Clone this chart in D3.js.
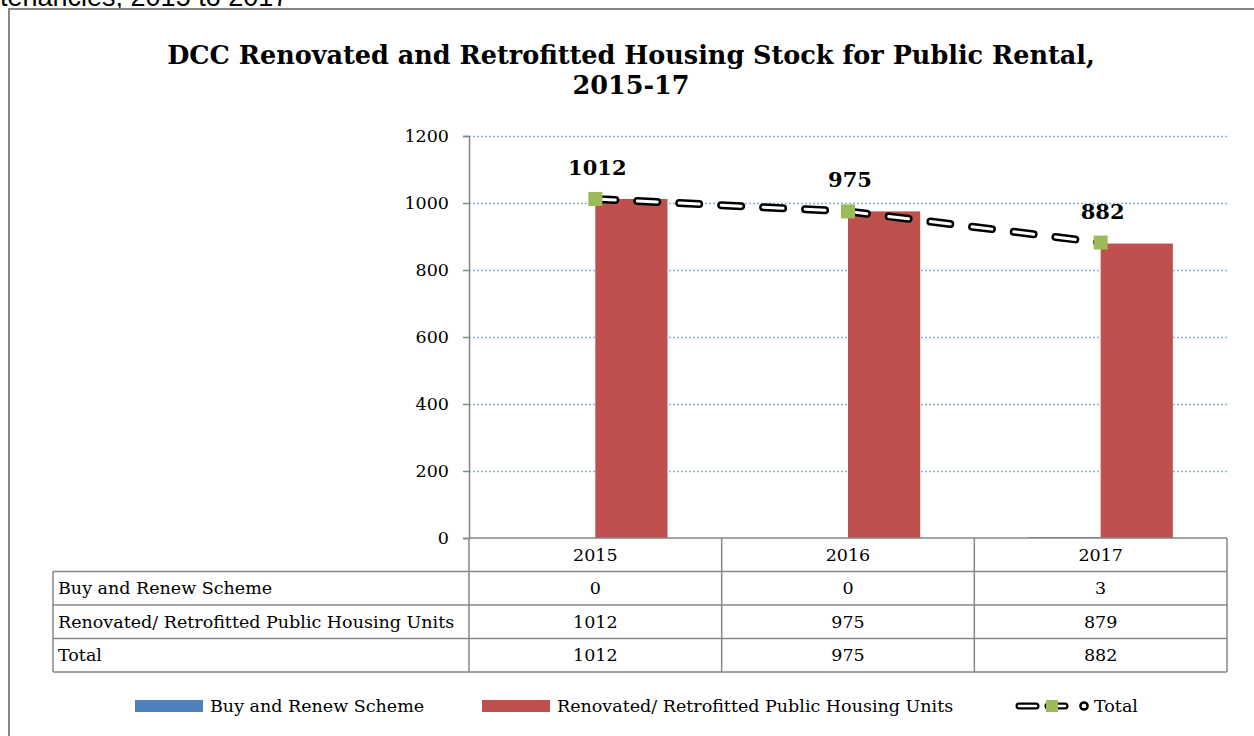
<!DOCTYPE html>
<html>
<head>
<meta charset="utf-8">
<script src="https://cdnjs.cloudflare.com/ajax/libs/d3/7.8.5/d3.min.js"></script>
<style>
  body { margin: 0; background: #fff; overflow: hidden; }
  svg { display: block; }
  text { font-family: "DejaVu Serif", "Liberation Serif", serif; fill: #000; }
</style>
</head>
<body>
<div id="container"></div>
<script>
// chart data
var years = ["2015", "2016", "2017"];
var buyRenew = [0, 0, 3];
var renovated = [1012, 975, 879];
var total = [1012, 975, 882];
var yTicks = [0, 200, 400, 600, 800, 1000, 1200];
var seriesNames = ["Buy and Renew Scheme", "Renovated/ Retrofitted Public Housing Units", "Total"];
var titleLines = ["DCC Renovated and Retrofitted Housing Stock for Public Rental,", "2015-17"];

var W = 1254, H = 736;
var plotL = 469, plotR = 1227, plotT = 136, plotB = 538;
var rowH = 33.5;
var tableL = 53;
var tfont = "17.5px";

var svg = d3.select("#container").append("svg")
    .attr("width", W).attr("height", H);

// text of the page above the chart (clipped at the top edge)
svg.append("text")
    .attr("x", 0).attr("y", 6)
    .style("font-family", "Liberation Sans, Arial, sans-serif")
    .style("font-size", "27px")
    .text("tenancies, 2015 to 2017");

// outer frame
svg.append("rect")
    .attr("x", 9).attr("y", 9)
    .attr("width", 1260).attr("height", 760)
    .attr("fill", "none").attr("stroke", "#868686").attr("stroke-width", 2);

// title
svg.selectAll("text.title").data(titleLines).enter().append("text")
    .attr("class", "title")
    .attr("x", 631)
    .attr("y", function(d, i) { return 64 + i * 30; })
    .attr("text-anchor", "middle")
    .style("font-size", "25.5px")
    .style("font-weight", "bold")
    .text(function(d) { return d; });

var x = d3.scaleBand().domain(years).range([plotL, plotR]).padding(0);
var y = d3.scaleLinear().domain([0, 1200]).range([plotB, plotT]);
var barW = x.bandwidth() / 3.5;
function cx(d) { return x(d) + x.bandwidth() / 2; }

// gridlines
svg.append("g").selectAll("line").data(yTicks.filter(function(d) { return d > 0; }))
  .enter().append("line")
    .attr("x1", plotL).attr("x2", plotR)
    .attr("y1", function(d) { return y(d) + 0.5; })
    .attr("y2", function(d) { return y(d) + 0.5; })
    .attr("stroke", "#8eb0e0").attr("stroke-width", 1.5)
    .attr("stroke-dasharray", "2 2");

// y axis
var yAxis = d3.axisLeft(y).tickValues(yTicks).tickSize(6).tickPadding(14)
    .tickFormat(d3.format("d"));
var ga = svg.append("g").attr("transform", "translate(" + plotL + ",0)").call(yAxis);
ga.select(".domain").attr("stroke", "#868686").attr("stroke-width", 1.5);
ga.selectAll(".tick line").attr("stroke", "#868686").attr("stroke-width", 1.5);
ga.selectAll(".tick text")
    .style("font-family", "DejaVu Serif, serif")
    .style("font-size", tfont).attr("fill", "#000");

// bars
svg.append("g").selectAll("rect").data(years).enter().append("rect")
    .attr("x", function(d) { return cx(d) - barW; })
    .attr("y", function(d, i) { return y(buyRenew[i]); })
    .attr("width", barW)
    .attr("height", function(d, i) { return plotB - y(buyRenew[i]); })
    .attr("fill", "#4f81bd");
svg.append("g").selectAll("rect").data(years).enter().append("rect")
    .attr("x", function(d) { return cx(d); })
    .attr("y", function(d, i) { return y(renovated[i]); })
    .attr("width", barW)
    .attr("height", function(d, i) { return plotB - y(renovated[i]); })
    .attr("fill", "#c0504d");

// data table grid
var grid = svg.append("g").attr("stroke", "#868686").attr("stroke-width", 1.5).attr("fill", "none");
grid.append("line").attr("x1", plotL).attr("x2", plotR).attr("y1", plotB).attr("y2", plotB);
[1, 2, 3, 4].forEach(function(r) {
  grid.append("line").attr("x1", tableL).attr("x2", plotR)
      .attr("y1", plotB + r * rowH).attr("y2", plotB + r * rowH);
});
grid.append("line").attr("x1", tableL).attr("x2", tableL)
    .attr("y1", plotB + rowH).attr("y2", plotB + 4 * rowH);
years.forEach(function(d) {
  grid.append("line").attr("x1", x(d)).attr("x2", x(d))
      .attr("y1", plotB).attr("y2", plotB + 4 * rowH);
});
grid.append("line").attr("x1", plotR).attr("x2", plotR)
    .attr("y1", plotB).attr("y2", plotB + 4 * rowH);

svg.append("g").selectAll("text").data(years).enter().append("text")
    .attr("x", cx).attr("y", plotB + rowH / 2 + 6)
    .attr("text-anchor", "middle").style("font-size", tfont)
    .text(function(d) { return d; });

var rows = [buyRenew, renovated, total];
rows.forEach(function(vals, r) {
  var ty = plotB + (r + 1) * rowH + rowH / 2 + 6;
  svg.append("text").attr("x", 58).attr("y", ty)
      .style("font-size", tfont).text(seriesNames[r]);
  svg.append("g").selectAll("text").data(years).enter().append("text")
      .attr("x", cx).attr("y", ty)
      .attr("text-anchor", "middle").style("font-size", tfont)
      .text(function(d, i) { return vals[i]; });
});

// total line
var line = d3.line()
    .x(function(d, i) { return cx(years[i]); })
    .y(function(d) { return y(d); });
svg.append("path").datum(total).attr("d", line)
    .attr("fill", "none").attr("stroke", "#000").attr("stroke-width", 8)
    .attr("stroke-linecap", "round").attr("stroke-dasharray", "20 22");
svg.append("path").datum(total).attr("d", line)
    .attr("fill", "none").attr("stroke", "#fff").attr("stroke-width", 3)
    .attr("stroke-linecap", "round").attr("stroke-dasharray", "20 22");

svg.append("g").selectAll("rect").data(total).enter().append("rect")
    .attr("x", function(d, i) { return cx(years[i]) - 7; })
    .attr("y", function(d) { return y(d) - 7; })
    .attr("width", 14).attr("height", 14)
    .attr("fill", "#9bbb59");

svg.append("g").selectAll("text").data(total).enter().append("text")
    .attr("x", function(d, i) { return cx(years[i]) + 2; })
    .attr("y", function(d) { return y(d) - 24; })
    .attr("text-anchor", "middle")
    .style("font-size", "21px").style("font-weight", "bold")
    .text(function(d) { return d; });

// legend
var lg = svg.append("g");
var ly = 706;
lg.append("rect").attr("x", 135).attr("y", ly - 6).attr("width", 68).attr("height", 12).attr("fill", "#4f81bd");
lg.append("text").attr("x", 210).attr("y", ly + 6).style("font-size", tfont).text(seriesNames[0]);
lg.append("rect").attr("x", 482).attr("y", ly - 6).attr("width", 68).attr("height", 12).attr("fill", "#c0504d");
lg.append("text").attr("x", 557).attr("y", ly + 6).style("font-size", tfont).text(seriesNames[1]);
var legPath = "M1019," + ly + "H1068";
lg.append("path").attr("d", legPath).attr("stroke", "#000").attr("stroke-width", 7)
    .attr("stroke-linecap", "round").attr("stroke-dasharray", "17 12").attr("fill", "none");
lg.append("path").attr("d", legPath).attr("stroke", "#fff").attr("stroke-width", 2.5)
    .attr("stroke-linecap", "round").attr("stroke-dasharray", "17 12").attr("fill", "none");
lg.append("circle").attr("cx", 1084).attr("cy", ly).attr("r", 3.6)
    .attr("fill", "#fff").attr("stroke", "#000").attr("stroke-width", 2.5);
lg.append("rect").attr("x", 1046).attr("y", ly - 6).attr("width", 12).attr("height", 12).attr("fill", "#9bbb59");
lg.append("text").attr("x", 1094).attr("y", ly + 6).style("font-size", tfont).text(seriesNames[2]);
</script>
</body>
</html>
